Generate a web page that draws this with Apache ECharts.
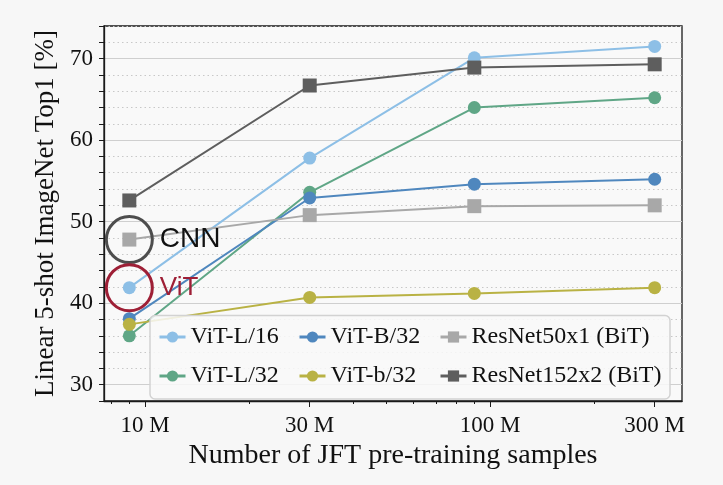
<!DOCTYPE html>
<html><head><meta charset="utf-8">
<script src="https://cdn.jsdelivr.net/npm/echarts@6/dist/echarts.min.js"></script>
<style>html,body{margin:0;padding:0;background:#f7f7f7}#c{width:723px;height:485px}</style>
</head><body><div id="c"></div>
<script>
// ---- data ----
const samplesM = [9, 30, 90, 300];               // JFT subset sizes (millions)
const xTickLabels = [10, 30, 100, 300];
const xMinorTicks = [8, 9, 20, 40, 50, 60, 70, 80, 90, 200];
const yMajorTicks = [30, 40, 50, 60, 70];
const vitL16   = [41.9, 57.8, 70.1, 71.5];
const vitB32   = [38.1, 52.9, 54.6, 55.2];
const resnet50 = [47.8, 50.8, 51.9, 52.0];
const vitL32   = [36.0, 53.6, 64.0, 65.2];
const vitb32   = [37.4, 40.7, 41.2, 41.9];
const resnet152= [52.6, 66.7, 68.9, 69.3];
const names = ['ViT-L/16','ViT-B/32','ResNet50x1 (BiT)','ViT-L/32','ViT-b/32','ResNet152x2 (BiT)'];

const SERIF = 'Liberation Serif';
const SANS = 'Liberation Sans';

function lineSeries(name, values, color, symbol, z) {
  return {
    name, type: 'line', z,
    data: samplesM.map((x, i) => [x, values[i]]),
    symbol, symbolSize: symbol === 'rect' ? 14 : 13,
    lineStyle: { color, width: 2 },
    itemStyle: { color, opacity: 1 },
    emphasis: { disabled: true },
    animation: false
  };
}
function ringSeries(label, x, y, color, textColor, fontSize) {
  return {
    type: 'scatter', z: 6, silent: true, animation: false,
    data: [[x, y]],
    symbol: 'circle', symbolSize: 46,
    itemStyle: { color: 'rgba(0,0,0,0)', borderColor: color, borderWidth: 3, opacity: 1 },
    label: { show: true, position: 'right', distance: 6, formatter: label,
             fontFamily: SANS, fontSize, color: textColor, opacity: 1 },
    emphasis: { disabled: true }
  };
}
const legendCommon = {
  orient: 'vertical', padding: 0, itemWidth: 26, itemHeight: 14, itemGap: 11,
  selectedMode: false,
  textStyle: { fontFamily: SERIF, fontSize: 24, color: '#111', lineHeight: 28 },
  lineStyle: { width: 3 }
};

const chart = echarts.init(document.getElementById('c'), null, { renderer: 'canvas' });
chart.setOption({
  backgroundColor: '#f7f7f7',
  animation: false,
  textStyle: { fontFamily: SERIF },
  grid: { left: 104, right: 41, top: 26, bottom: 84, show: true,
          backgroundColor: '#f9f9f9', borderColor: '#1a1a1a', borderWidth: 1.3 },
  xAxis: [{
    type: 'log', min: 7.6, max: 360, position: 'bottom',
    name: 'Number of JFT pre-training samples', nameLocation: 'middle', nameGap: 41,
    nameTextStyle: { fontFamily: SERIF, fontSize: 28, color: '#111' },
    axisLine: { onZero: false, lineStyle: { color: '#1a1a1a', width: 1.3 } },
    axisTick: { customValues: xTickLabels, length: 6, lineStyle: { color: '#1a1a1a' } },
    axisLabel: { customValues: xTickLabels, formatter: v => v + ' M', margin: 13,
                 fontFamily: SERIF, fontSize: 23, color: '#111' },
    splitLine: { show: false }, minorTick: { show: false }
  }, {
    type: 'log', min: 7.6, max: 360, position: 'bottom',
    axisLine: { show: false, onZero: false },
    axisTick: { customValues: xMinorTicks, length: 3, lineStyle: { color: '#1a1a1a' } },
    axisLabel: { show: false }, splitLine: { show: false }
  }],
  yAxis: [{
    type: 'value', min: 28, max: 74, interval: 2, position: 'left',
    name: 'Linear 5-shot ImageNet Top1 [%]', nameLocation: 'middle', nameGap: 41,
    nameTextStyle: { fontFamily: SERIF, fontSize: 27, color: '#111' },
    axisLine: { show: true, onZero: false, lineStyle: { color: '#1a1a1a', width: 1.3 } },
    axisTick: { show: true, length: 5, lineStyle: { color: '#1a1a1a' } },
    axisLabel: { formatter: v => (v % 10 === 0 ? String(v) : ''), margin: 11,
                 fontFamily: SERIF, fontSize: 23, color: '#111' },
    splitLine: { show: true, lineStyle: { color: '#c8c8c8', type: [1.5, 3], width: 1 } }
  }, {
    type: 'value', min: 28, max: 74, position: 'left',
    axisLine: { show: false }, axisLabel: { show: false },
    axisTick: { show: false, customValues: yMajorTicks },
    splitLine: { show: true, lineStyle: { color: '#cfcfcf', width: 1.2 } }
  }],
  legend: [
    Object.assign({ left: 158, top: 323, data: [names[0], names[3]] }, legendCommon),
    Object.assign({ left: 298, top: 323, data: [names[1], names[4]] }, legendCommon),
    Object.assign({ left: 439, top: 323, data: [names[2], names[5]] }, legendCommon)
  ],
  graphic: [{
    type: 'rect', z: 3, silent: true,
    shape: { x: 150, y: 315.5, width: 520, height: 83.5, r: 5 },
    style: { fill: 'rgba(249,249,249,0.85)', stroke: '#d2d2d2', lineWidth: 1.5 }
  }],
  series: [
    lineSeries(names[0], vitL16, '#8dbfe6', 'circle', 2),
    lineSeries(names[3], vitL32, '#5fa686', 'circle', 2),
    lineSeries(names[1], vitB32, '#4f87be', 'circle', 2),
    lineSeries(names[4], vitb32, '#b9b244', 'circle', 2),
    lineSeries(names[2], resnet50, '#a8a8a8', 'rect', 2),
    lineSeries(names[5], resnet152, '#5e5e5e', 'rect', 2),
    ringSeries('CNN', samplesM[0], resnet50[0], '#4d4d4d', '#111111', 28),
    ringSeries('ViT', samplesM[0], vitL16[0], '#9e1f36', '#9e1f36', 26)
  ]
});
</script></body></html>
